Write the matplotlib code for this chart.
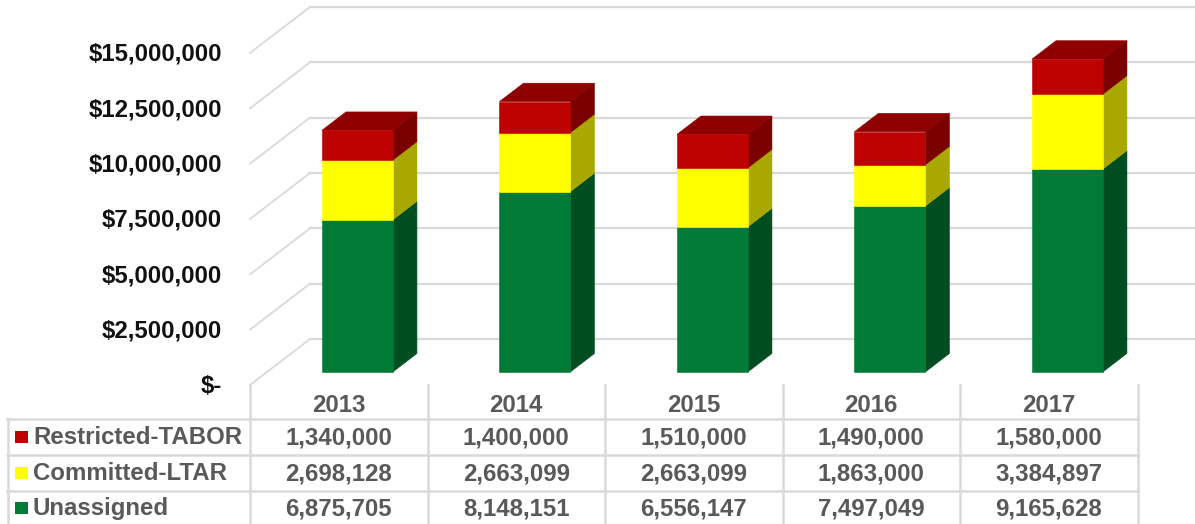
import matplotlib
matplotlib.use('Agg')
import matplotlib.pyplot as plt

plt.rcParams['font.family'] = ['Liberation Sans', 'DejaVu Sans']

years = ['2013', '2014', '2015', '2016', '2017']
unassigned = [6875705, 8148151, 6556147, 7497049, 9165628]
committed = [2698128, 2663099, 2663099, 1863000, 3384897]
restricted = [1340000, 1400000, 1510000, 1490000, 1580000]
series_names = ['Restricted-TABOR', 'Committed-LTAR', 'Unassigned']
y_ticks = [0, 2500000, 5000000, 7500000, 10000000, 12500000, 15000000]
y_labels = ['$-', '$2,500,000', '$5,000,000', '$7,500,000',
            '$10,000,000', '$12,500,000', '$15,000,000']

W, H = 1195, 524
col_w = 177.5       # px per category
x0_px = 250         # left edge of first category
y0_px = 385         # value 0 on the front edge of the floor
px_per_val = 332 / 15000000
depth_dx = 60       # px shift front to back wall
depth_dy = 46
bar_w = 0.4
bar_shift = 0.009
bar_d0, bar_d1 = 0.285, 0.685

GRID = '#d9d9d9'
TXT = '#595959'
FS = 17.3

fig = plt.figure(figsize=(W / 100, H / 100), dpi=100)
ax = fig.add_axes([0, 0, 1, 1])
# axes limits put categories and dollars on the picture
ax.set_xlim(-x0_px / col_w - 0.5, (W - x0_px) / col_w - 0.5)
ax.set_ylim((y0_px - H) / px_per_val, y0_px / px_per_val)
ax.axis('off')


def proj(cat, val, depth):
    # oblique projection: category, value, depth 0..1 -> axes data
    return (cat + depth * depth_dx / col_w, val + depth * depth_dy / px_per_val)


def X(px):
    return (px - x0_px) / col_w - 0.5


def Y(py):
    return (y0_px - py) / px_per_val


# wall gridlines
for val in y_ticks:
    a = proj(-0.5, val, 0)
    b = proj(-0.5, val, 1)
    c = proj(len(years) - 0.5, val, 1)
    ax.plot([a[0], b[0]], [a[1], b[1]], color=GRID, lw=1.3, zorder=1)
    ax.plot([b[0], c[0]], [b[1], c[1]], color=GRID, lw=1.6, zorder=1)

# value labels
for val, lab in zip(y_ticks, y_labels):
    ax.text(X(222), val - 1.5 / px_per_val, lab, ha='right', va='center', fontsize=FS,
            fontweight='bold', color='#111111')

# bars
layers = [
    (unassigned, '#007a37', '#004d22', '#006b30'),
    (committed, '#ffff00', '#a8a800', '#d0d000'),
    (restricted, '#bd0000', '#7a0000', '#8f0000'),
]
for i in range(len(years)):
    base = 0
    l, r = i + bar_shift - bar_w / 2, i + bar_shift + bar_w / 2
    for vals, front, side, top in layers:
        v0, v1 = base, base + vals[i]
        pts = [proj(r, v0, bar_d0), proj(r, v0, bar_d1), proj(r, v1, bar_d1), proj(r, v1, bar_d0)]
        ax.fill(*zip(*pts), color=side, lw=0.4, zorder=3)
        pts = [proj(l, v0, bar_d0), proj(r, v0, bar_d0), proj(r, v1, bar_d0), proj(l, v1, bar_d0)]
        ax.fill(*zip(*pts), color=front, lw=0.4, zorder=4)
        base = v1
    pts = [proj(l, base, bar_d0), proj(r, base, bar_d0), proj(r, base, bar_d1), proj(l, base, bar_d1)]
    ax.fill(*zip(*pts), color=layers[-1][3], lw=0.4, zorder=3)

# data table
for py in [419, 455, 491]:
    ax.plot([X(7), X(1138)], [Y(py), Y(py)], color=GRID, lw=1.8, zorder=2)
ax.plot([X(8), X(8)], [Y(419), Y(H)], color=GRID, lw=1.8, zorder=2)
for k in range(len(years) + 1):
    ax.plot([k - 0.5, k - 0.5], [Y(385), Y(H)], color=GRID, lw=1.8, zorder=2)

row_y = [438, 474, 509]
rows = [restricted, committed, unassigned]
key_cols = ['#bd0000', '#ffff00', '#007a37']
for i, yr in enumerate(years):
    ax.text(i, Y(406), yr, ha='center', va='center', fontsize=FS, fontweight='bold', color=TXT)
    for py, vals in zip(row_y, rows):
        ax.text(i, Y(py), f'{vals[i]:,}', ha='center', va='center', fontsize=FS,
                fontweight='bold', color=TXT)
for py, name, col in zip(row_y, series_names, key_cols):
    ax.fill([X(15), X(27.5), X(27.5), X(15)], [Y(py - 7), Y(py - 7), Y(py + 5), Y(py + 5)],
            color=col, lw=0, zorder=3)
    ax.text(X(33), Y(py), name, ha='left', va='center', fontsize=FS,
            fontweight='bold', color=TXT)

fig.savefig('out.png', dpi=100)
